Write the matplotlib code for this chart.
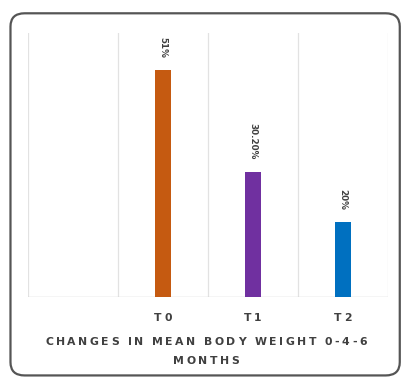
import matplotlib
matplotlib.use("Agg")
import matplotlib.pyplot as plt
from matplotlib.patches import FancyBboxPatch
from matplotlib.font_manager import FontProperties

# mean body weight change per time point (%)
categories = ["T0", "T1", "T2"]
values = [51.0, 30.20, 20.0]
labels = ["51%", "30.20%", "20%"]
colors = ["#C55A11", "#7030A0", "#0070C0"]
axis_title = ["CHANGES IN MEAN BODY WEIGHT 0-4-6", "MONTHS"]

TEXT_COLOR = "#404040"


def spaced_text(fig, xc, yc, s, size, track):
    """Draw s centred at figure pixel (xc, yc) with extra letter spacing."""
    fp = FontProperties(family="DejaVu Sans", weight="bold", size=size)
    r = fig.canvas.get_renderer()
    widths = []
    for ch in s:
        if ch == " ":
            w = r.get_text_width_height_descent("a a", fp, ismath=False)[0] - \
                r.get_text_width_height_descent("aa", fp, ismath=False)[0]
        else:
            w = r.get_text_width_height_descent(ch, fp, ismath=False)[0]
        widths.append(w)
    total = sum(widths) + track * (len(s) - 1)
    xpos = xc - total / 2
    for ch, w in zip(s, widths):
        if ch != " ":
            fig.text(xpos / fig.bbox.width, yc / fig.bbox.height, ch,
                     fontproperties=fp, color=TEXT_COLOR, ha="left", va="center")
        xpos += w + track


fig = plt.figure(figsize=(4.03, 3.8), dpi=100)
fig.patch.set_facecolor("white")

# rounded frame around the whole chart
frame = FancyBboxPatch((0.026, 0.012), 0.966, 0.953,
                       boxstyle="round,pad=0,rounding_size=0.035",
                       transform=fig.transFigure, facecolor="none",
                       edgecolor="#555555", linewidth=1.6)
fig.patches.append(frame)

ax = fig.add_axes([0.0695, 0.218, 0.893, 0.695])
x = [1, 2, 3]
ax.bar(x, values, width=0.18, color=colors, zorder=3)

for xi, v, lab in zip(x, values, labels):
    ax.annotate(lab, (xi, v), xytext=(0, 9), textcoords="offset points",
                rotation=-90, ha="center", va="bottom", fontsize=6.3,
                color=TEXT_COLOR, fontweight="bold")

ax.set_xlim(-0.5, 3.5)
ax.set_ylim(4.7, 58.5)
for b in [-0.5, 0.5, 1.5, 2.5, 3.5]:
    ax.axvline(b, color="#e2e2e2", linewidth=0.9, zorder=1)
ax.axhline(4.7, color="#d0d0d0", linewidth=1.0, zorder=2)

for s in ax.spines.values():
    s.set_visible(False)
ax.set_yticks([])
ax.set_xticks(x)
ax.set_xticklabels([])
ax.tick_params(axis="x", length=0)

# category names and axis title, letter-spaced
fig.canvas.draw()
for xi, cat in zip(x, categories):
    px = ax.transData.transform((xi, 4.7))[0]
    spaced_text(fig, px, 380 - 318, cat, 7.8, 2.4)
spaced_text(fig, 206, 380 - 342, axis_title[0], 7.8, 2.5)
spaced_text(fig, 206, 380 - 361, axis_title[1], 7.8, 2.5)

fig.savefig("out.png", dpi=100)
